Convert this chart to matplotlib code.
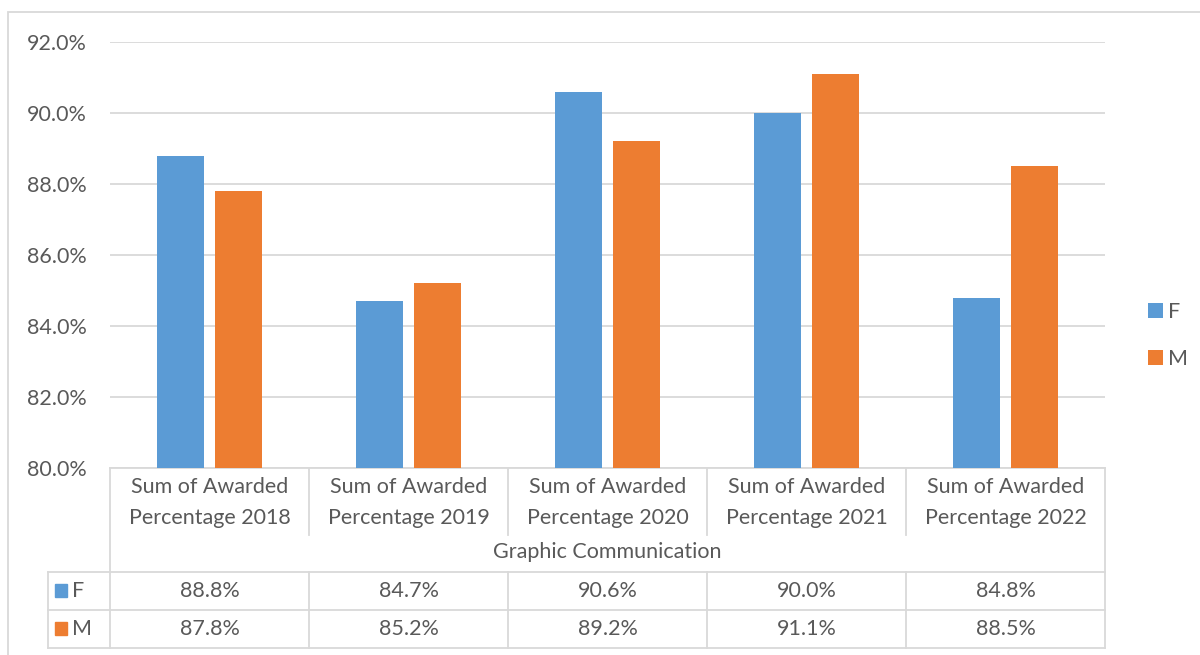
import matplotlib.pyplot as plt
import matplotlib.transforms as mtransforms
from matplotlib.patches import Rectangle
import numpy as np

categories = ['Sum of Awarded\nPercentage 2018', 'Sum of Awarded\nPercentage 2019',
              'Sum of Awarded\nPercentage 2020', 'Sum of Awarded\nPercentage 2021',
              'Sum of Awarded\nPercentage 2022']
group_label = 'Graphic Communication'
series_names = ['F', 'M']
f_vals = [88.8, 84.7, 90.6, 90.0, 84.8]
m_vals = [87.8, 85.2, 89.2, 91.1, 88.5]
colors = ['#5B9BD5', '#ED7D31']

txt = '#595959'
grid = '#d9d9d9'
fs = 15.5

plt.rcParams['font.family'] = ['Lato', 'DejaVu Sans']
fig = plt.figure(figsize=(12, 6.55), dpi=100)
ax = fig.add_axes([110/1200, 187/655, 995/1200, 426/655])

x = np.arange(len(categories))
w = 0.232
ax.bar(x - 0.146, f_vals, w, color=colors[0], label=series_names[0], zorder=3)
ax.bar(x + 0.146, m_vals, w, color=colors[1], label=series_names[1], zorder=3)

ax.set_xlim(-0.5, len(categories) - 0.5)
ax.set_ylim(80, 92)
ax.set_yticks(np.arange(80, 92.1, 2))
ax.set_yticklabels(['%.1f%%' % v for v in np.arange(80, 92.1, 2)])
ax.set_xticks([])
ax.tick_params(axis='y', length=0, pad=17, labelsize=fs, labelcolor=txt)
ax.yaxis.grid(True, color=grid, linewidth=1.3, zorder=0)
for s in ax.spines.values():
    s.set_visible(False)

# data table under the plot
tr = mtransforms.blended_transform_factory(ax.transData, ax.transAxes)
lw = 1.3
xl = -0.5 - 62/199  # left edge of legend key column
r0, r1, r2, r3, r4 = 0.0, -0.158, -0.244, -0.333, -0.423
xr = len(categories) - 0.5
kw = dict(color=grid, lw=lw, transform=tr, clip_on=False)
ax.plot([-0.5, xr], [r0, r0], **kw)
ax.plot([-0.5, -0.5], [r0, r4], **kw)
ax.plot([xr, xr], [r0, r4], **kw)
for b in np.arange(0.5, len(categories) - 0.5):
    ax.plot([b, b], [r0, r1], **kw)
    ax.plot([b, b], [r2, r4], **kw)
for yy in (r2, r3, r4):
    ax.plot([xl, xr], [yy, yy], **kw)
ax.plot([xl, xl], [r2, r4], **kw)

for i, c in enumerate(categories):
    ax.text(i, -0.081, c, transform=tr, ha='center', va='center', fontsize=fs,
            color=txt, linespacing=1.65)
ax.text((len(categories) - 1) / 2, -0.197, group_label, transform=tr,
        ha='center', va='center', fontsize=fs, color=txt)

for name, vals, col, yc in zip(series_names, [f_vals, m_vals], colors, [-0.288, -0.377]):
    ax.add_patch(Rectangle((-0.5 - 55/199, yc - 0.015), 12/199, 0.03, color=col,
                           transform=tr, clip_on=False))
    ax.text(-0.5 - 38/199, yc, name, transform=tr, ha='left', va='center',
            fontsize=fs, color=txt)
    for i, v in enumerate(vals):
        ax.text(i, yc, '%.1f%%' % v, transform=tr, ha='center', va='center',
                fontsize=fs, color=txt)

leg = ax.legend(loc='center left', bbox_to_anchor=(1.024, 0.31), frameon=False,
                handlelength=0.7, handleheight=0.7, labelspacing=1.25,
                handletextpad=0.2, fontsize=fs)
for t in leg.get_texts():
    t.set_color(txt)

# outer chart border
fig.patches.append(Rectangle((8/1200, -0.1), 1.2, 1 - 12/655 + 0.1, fill=False,
                             ec=grid, lw=1.3, transform=fig.transFigure))

fig.savefig('out.png', dpi=100)
